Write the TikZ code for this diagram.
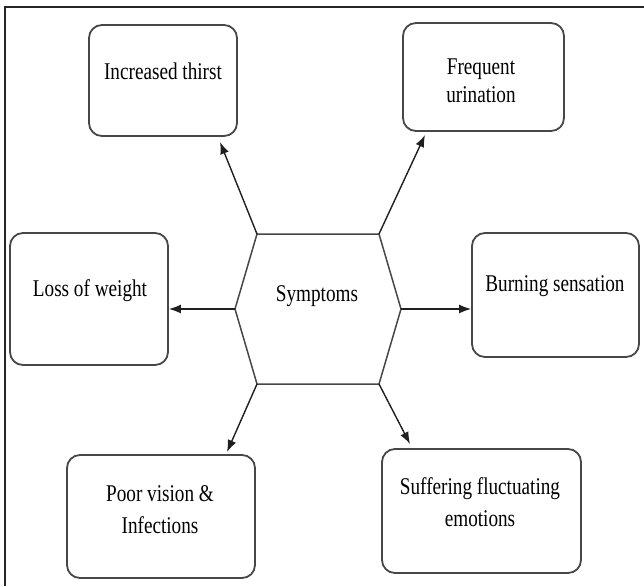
\documentclass[tikz,border=0pt]{standalone}
\usepackage{fontspec}
\setmainfont{Liberation Serif}[FakeStretch=0.8]
\usetikzlibrary{arrows.meta}
\begin{document}
\begin{tikzpicture}[x=1pt,y=-1pt,
  box/.style={draw=black!72, line width=1.8pt, rounded corners=13pt, inner sep=0pt, fill=white},
  txt/.style={align=center, inner sep=0pt, text=black, font=\fontsize{24}{28}\selectfont},
  hexline/.style={draw=black!72, line width=1.5pt},
  arr/.style={draw=black!88, line width=1.4pt, -{Latex[length=12pt,width=9pt]}},
  frame/.style={draw=black!85, line width=1.4pt}]
\useasboundingbox (0,0) rectangle (644,586);
% frame (only top and left visible)
\coordinate (f1) at (5,586);
\coordinate (f2) at (5,7);
\coordinate (f3) at (644,7);
\draw[frame] (f1) -- (f2) -- (f3);
% boxes
\node[box, minimum width=148pt, minimum height=111pt] (thirst) at (163,80.5) {};
\node[box, minimum width=161pt, minimum height=108pt] (freq) at (483.5,77) {};
\node[box, minimum width=158pt, minimum height=132pt] (loss) at (89,299) {};
\node[box, minimum width=167pt, minimum height=124pt] (burn) at (555.5,295) {};
\node[box, minimum width=188pt, minimum height=123pt] (poor) at (161,516.5) {};
\node[box, minimum width=199pt, minimum height=124pt] (suff) at (481.5,511) {};
% texts
\node[txt] (tthirst) at (163,71) {Increased thirst};
\node[txt] (tfreq) at (481,81) {Frequent\\urination};
\node[txt] (tloss) at (90,291) {Loss of weight};
\node[txt] (tburn) at (555,286) {Burning sensation};
\node[txt, font=\fontsize{24}{32}\selectfont] (tpoor) at (160,510) {Poor vision \&\\Infections};
\node[txt, font=\fontsize{24}{32}\selectfont] (tsuff) at (480,502) {Suffering fluctuating\\emotions};
% hexagon
\coordinate (h1) at (257,234);
\coordinate (h2) at (379,234);
\coordinate (h3) at (401,309);
\coordinate (h4) at (379,384);
\coordinate (h5) at (257,384);
\coordinate (h6) at (235,309);
\draw[hexline] (h1) -- (h2) -- (h3) -- (h4) -- (h5) -- (h6) -- cycle;
\node[txt] (tsym) at (317,296) {Symptoms};
% arrow end points
\coordinate (e1) at (220,142);
\coordinate (e2) at (425,135);
\coordinate (e3) at (loss.east |- h6);
\coordinate (e4) at (burn.west |- h3);
\coordinate (e5) at (227,452);
\coordinate (e6) at (410,444);
\draw[arr] (h1) -- (e1);
\draw[arr] (h2) -- (e2);
\draw[arr] (h6) -- (e3);
\draw[arr] (h3) -- (e4);
\draw[arr] (h5) -- (e5);
\draw[arr] (h4) -- (e6);
\end{tikzpicture}
\end{document}
